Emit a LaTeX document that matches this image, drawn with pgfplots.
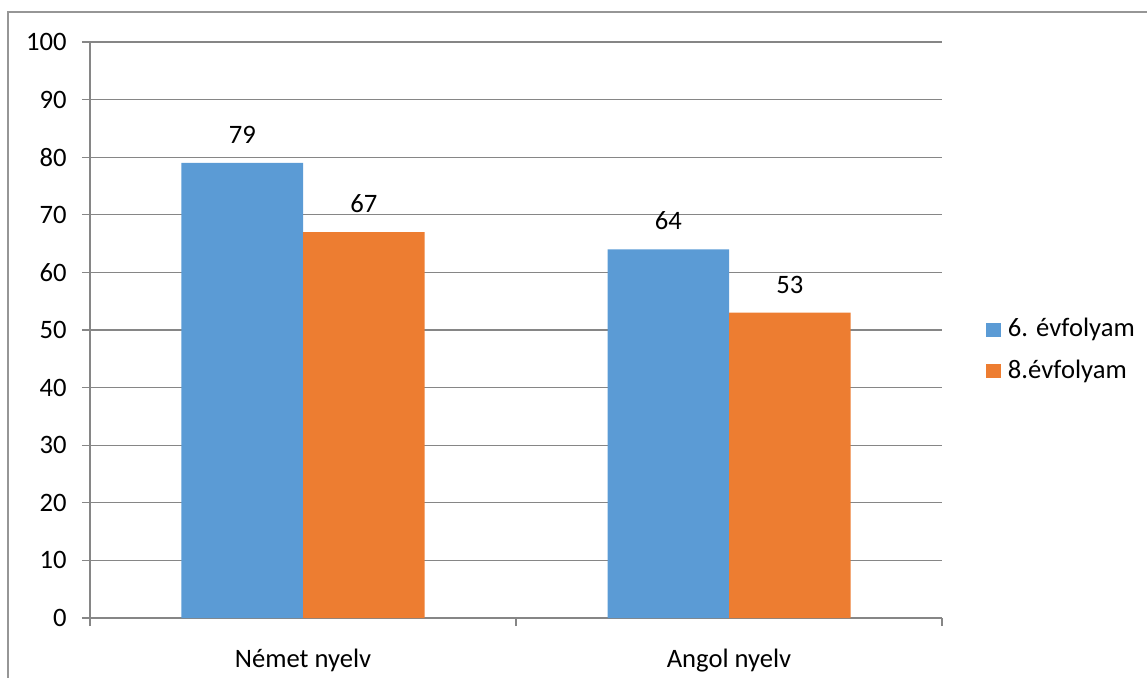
\documentclass[border=0pt]{standalone}
\usepackage{fontspec}
\setmainfont{Carlito}
\usepackage{pgfplots}
\pgfplotsset{compat=1.18}

\definecolor{barblue}{RGB}{91,155,213}
\definecolor{barorange}{RGB}{237,125,49}
\definecolor{gridgray}{RGB}{134,134,134}
\definecolor{framegray}{RGB}{150,150,150}

\newcommand{\chartfont}{\fontsize{13.3}{16}\selectfont}

\begin{document}
\begin{tikzpicture}
\useasboundingbox (-45pt,-29.5pt) rectangle (528.5pt,309pt);
\draw[framegray, line width=0.6pt] (-41pt,-40pt) -- (-41pt,303pt) -- (540pt,303pt);
\begin{axis}[
    at={(0pt,0pt)}, anchor=south west,
    scale only axis,
    width=426pt, height=288pt,
    ybar=0pt, bar width=60.75pt,
    xmin=-0.5, xmax=1.5,
    ymin=0, ymax=100,
    ytick={0,10,...,100},
    xtick={0,1},
    xticklabels={Német nyelv, Angol nyelv},
    minor xtick={-0.5,0.5,1.5},
    major x tick style={draw=none},
    tick align=outside,
    major tick length=4pt,
    minor tick length=4pt,
    axis lines*=left,
    axis line style={gridgray, line width=0.6pt},
    tick style={gridgray, line width=0.6pt},
    ymajorgrids,
    grid style={gridgray, line width=0.6pt},
    /pgf/number format/assume math mode=true,
    tick label style={font=\chartfont, text=black},
    yticklabel style={anchor=east, inner sep=0pt, xshift=-7.5pt},
    xticklabel style={anchor=base, inner sep=0pt, yshift=-20.5pt},
    nodes near coords,
    every node near coord/.append style={font=\chartfont, text=black, anchor=base, inner sep=0pt, yshift=9.85pt},
    legend style={draw=none, fill=none, inner sep=0pt,
        at={(rel axis cs:1.0516,0.466)}, anchor=west,
        font=\chartfont, row sep=10pt,
        nodes={inner sep=0pt, anchor=base west}},
    /tikz/every odd column/.style={column sep=3.5pt},
    legend cell align=left,
    legend image code/.code={\fill[#1] (0pt,0pt) rectangle (7.3pt,7pt);},
]
\addplot[draw=none, fill=barblue] coordinates {(0,79) (1,64)};
\addlegendentry{6. évfolyam}
\addplot[draw=none, fill=barorange] coordinates {(0,67) (1,53)};
\addlegendentry{8.évfolyam}
\end{axis}
\end{tikzpicture}
\end{document}
